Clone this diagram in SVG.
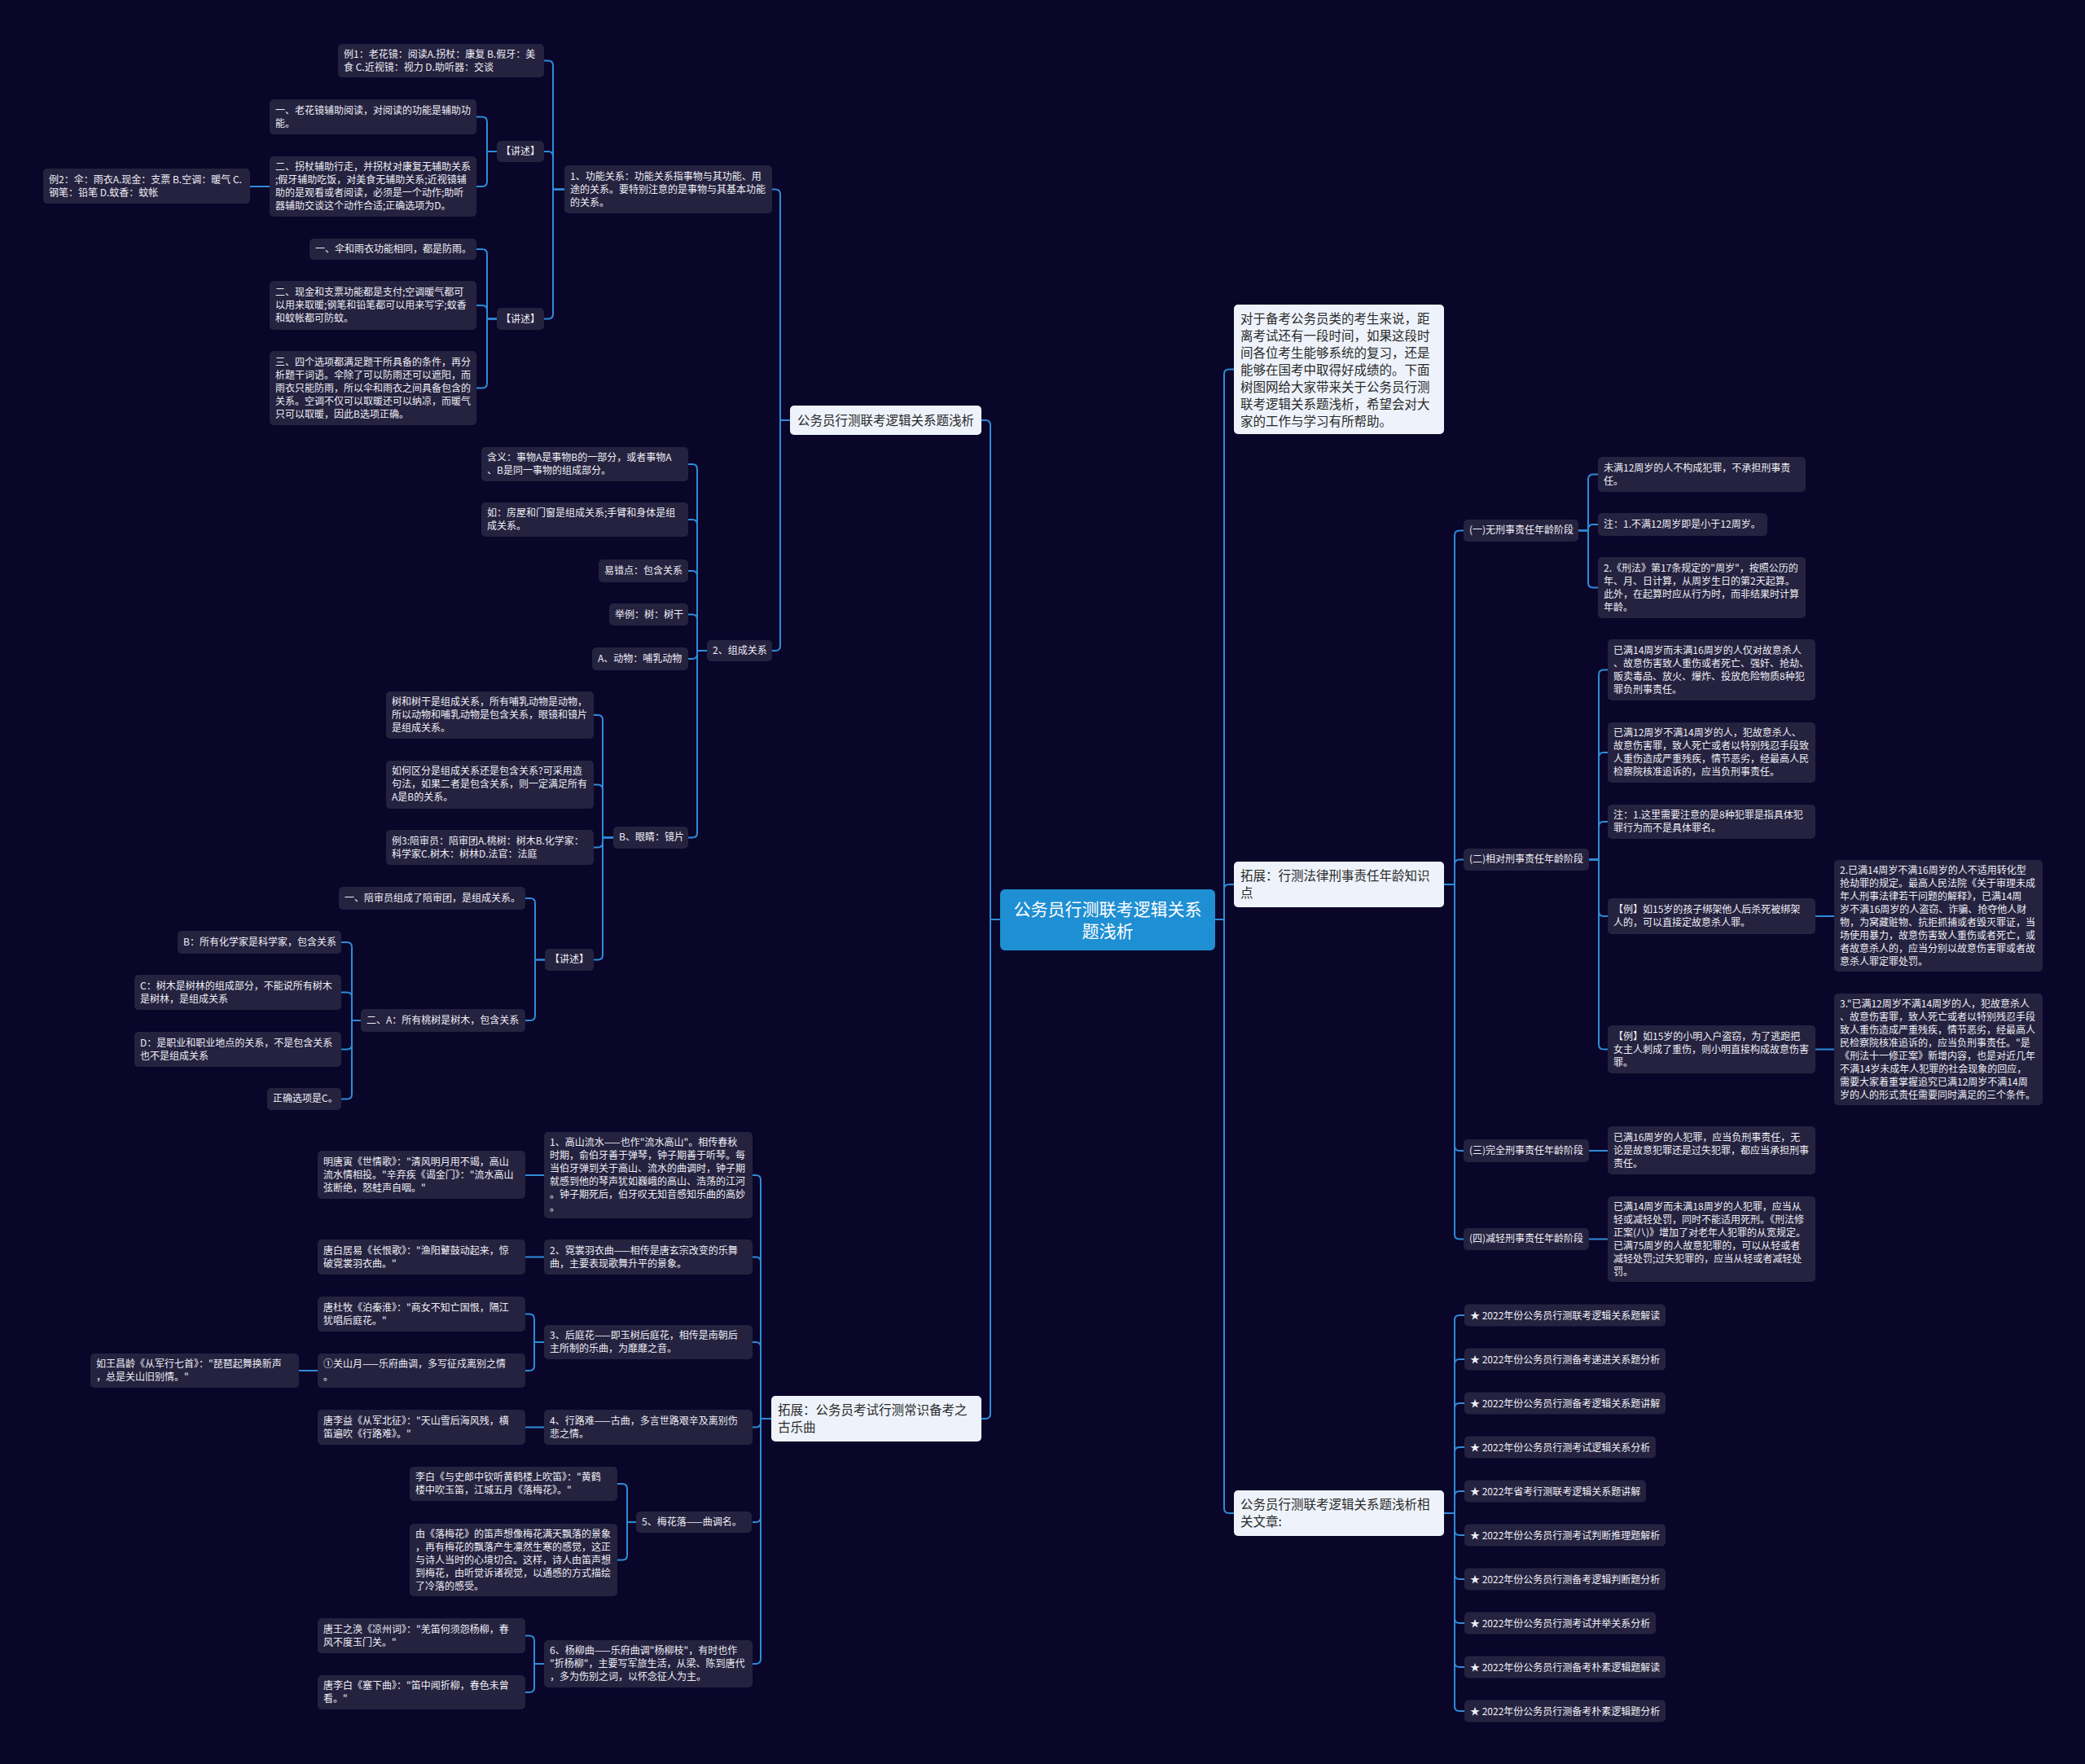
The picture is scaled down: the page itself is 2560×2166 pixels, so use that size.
<svg xmlns="http://www.w3.org/2000/svg" width="2560" height="2166" viewBox="0 0 2560 2166">
<style>
.n rect{fill:#25223f}
.n text{fill:#eeeef5;font-family:"Noto Sans CJK SC","Noto Sans",sans-serif;font-size:12px}
.l rect{fill:#eef3fb}
.l text{fill:#2a2a2a;font-family:"Noto Sans CJK SC","Noto Sans",sans-serif;font-size:15.5px}
.r rect{fill:#1f8fd4}
.r text{fill:#ffffff;font-family:"Noto Sans CJK SC","Noto Sans",sans-serif;font-size:21px;text-anchor:middle}
#connectors path{fill:none;stroke:#2f8bd8;stroke-width:2}
</style>
<rect width="2560" height="2166" fill="#09062a"/>
<g id="connectors">
<path d="M1228,1129 H1216 V522 Q1216,516 1210,516 H1205"/>
<path d="M1228,1129 H1216 V1736 Q1216,1742 1210,1742 H1205"/>
<path d="M1492,1129 H1503 V459.5 Q1503,453.5 1509,453.5 H1515"/>
<path d="M1492,1129 H1503 V1092 Q1503,1086 1509,1086 H1515"/>
<path d="M1492,1129 H1503 V1852 Q1503,1858 1509,1858 H1515"/>
<path d="M970,516 H958 V238.5 Q958,232.5 952,232.5 H948"/>
<path d="M970,516 H958 V793 Q958,799 952,799 H948"/>
<path d="M693,232.5 H679 V80.5 Q679,74.5 673,74.5 H668"/>
<path d="M693,232.5 H679 V192 Q679,186 673,186 H668"/>
<path d="M693,232.5 H679 V385.5 Q679,391.5 673,391.5 H668"/>
<path d="M610,186 H598 V149.5 Q598,143.5 592,143.5 H585"/>
<path d="M610,186 H598 V223 Q598,229 592,229 H585"/>
<path d="M331,229 H307"/>
<path d="M610,391.5 H598 V312 Q598,306 592,306 H585"/>
<path d="M610,391.5 H598 V381 Q598,375 592,375 H585"/>
<path d="M610,391.5 H598 V470.5 Q598,476.5 592,476.5 H585"/>
<path d="M868,799 H856 V576 Q856,570 850,570 H845"/>
<path d="M868,799 H856 V644 Q856,638 850,638 H845"/>
<path d="M868,799 H856 V707 Q856,701 850,701 H845"/>
<path d="M868,799 H856 V760.5 Q856,754.5 850,754.5 H845"/>
<path d="M868,799 H856 V803 Q856,809 850,809 H845"/>
<path d="M868,799 H856 V1022.5 Q856,1028.5 850,1028.5 H845"/>
<path d="M753,1028.5 H740 V884 Q740,878 734,878 H729"/>
<path d="M753,1028.5 H740 V969.5 Q740,963.5 734,963.5 H729"/>
<path d="M753,1028.5 H740 V1034.5 Q740,1040.5 734,1040.5 H729"/>
<path d="M753,1028.5 H740 V1172.5 Q740,1178.5 734,1178.5 H729"/>
<path d="M669,1178.5 H657 V1109 Q657,1103 651,1103 H645"/>
<path d="M669,1178.5 H657 V1247 Q657,1253 651,1253 H645"/>
<path d="M443,1253 H432 V1163 Q432,1157 426,1157 H419"/>
<path d="M443,1253 H432 V1224.5 Q432,1218.5 426,1218.5 H419"/>
<path d="M443,1253 H432 V1282.5 Q432,1288.5 426,1288.5 H419"/>
<path d="M443,1253 H432 V1343.5 Q432,1349.5 426,1349.5 H419"/>
<path d="M947,1742 H934 V1449 Q934,1443 928,1443 H924"/>
<path d="M947,1742 H934 V1549.5 Q934,1543.5 928,1543.5 H924"/>
<path d="M947,1742 H934 V1654 Q934,1648 928,1648 H924"/>
<path d="M947,1742 H934 V1746.5 Q934,1752.5 928,1752.5 H924"/>
<path d="M947,1742 H934 V1863 Q934,1869 928,1869 H924"/>
<path d="M947,1742 H934 V2037 Q934,2043 928,2043 H924"/>
<path d="M668,1443 H645"/>
<path d="M668,1543.5 H645"/>
<path d="M668,1648 H656 V1619.5 Q656,1613.5 650,1613.5 H645"/>
<path d="M668,1648 H656 V1677 Q656,1683 650,1683 H645"/>
<path d="M390,1683 H367"/>
<path d="M668,1752.5 H645"/>
<path d="M781,1869 H770 V1828 Q770,1822 764,1822 H758"/>
<path d="M781,1869 H770 V1909.5 Q770,1915.5 764,1915.5 H758"/>
<path d="M668,2043 H656 V2014.5 Q656,2008.5 650,2008.5 H645"/>
<path d="M668,2043 H656 V2072 Q656,2078 650,2078 H645"/>
<path d="M1773,1086 H1786 V657.5 Q1786,651.5 1792,651.5 H1797"/>
<path d="M1773,1086 H1786 V1061.5 Q1786,1055.5 1792,1055.5 H1797"/>
<path d="M1773,1086 H1786 V1407 Q1786,1413 1792,1413 H1797"/>
<path d="M1773,1086 H1786 V1515.5 Q1786,1521.5 1792,1521.5 H1797"/>
<path d="M1938,651.5 H1950 V588.5 Q1950,582.5 1956,582.5 H1962"/>
<path d="M1938,651.5 H1950 V650 Q1950,644 1956,644 H1962"/>
<path d="M1938,651.5 H1950 V715.5 Q1950,721.5 1956,721.5 H1962"/>
<path d="M1951,1055.5 H1963 V828.5 Q1963,822.5 1969,822.5 H1974"/>
<path d="M1951,1055.5 H1963 V930 Q1963,924 1969,924 H1974"/>
<path d="M1951,1055.5 H1963 V1015 Q1963,1009 1969,1009 H1974"/>
<path d="M1951,1055.5 H1963 V1119 Q1963,1125 1969,1125 H1974"/>
<path d="M1951,1055.5 H1963 V1282.5 Q1963,1288.5 1969,1288.5 H1974"/>
<path d="M2229,1125 H2252"/>
<path d="M2229,1288.5 H2252"/>
<path d="M1951,1413 H1974"/>
<path d="M1951,1521.5 H1974"/>
<path d="M1773,1858 H1786 V1621 Q1786,1615 1792,1615 H1798"/>
<path d="M1773,1858 H1786 V1675 Q1786,1669 1792,1669 H1798"/>
<path d="M1773,1858 H1786 V1729 Q1786,1723 1792,1723 H1798"/>
<path d="M1773,1858 H1786 V1783 Q1786,1777 1792,1777 H1798"/>
<path d="M1773,1858 H1786 V1837 Q1786,1831 1792,1831 H1798"/>
<path d="M1773,1858 H1786 V1879 Q1786,1885 1792,1885 H1798"/>
<path d="M1773,1858 H1786 V1933 Q1786,1939 1792,1939 H1798"/>
<path d="M1773,1858 H1786 V1987 Q1786,1993 1792,1993 H1798"/>
<path d="M1773,1858 H1786 V2041 Q1786,2047 1792,2047 H1798"/>
<path d="M1773,1858 H1786 V2095 Q1786,2101 1792,2101 H1798"/>
</g>

<g id="root" class="r"><rect x="1228" y="1092" width="264" height="75" rx="6"/><text><tspan x="1360" y="1124">公务员行测联考逻辑关系</tspan><tspan x="1360" y="1151">题浅析</tspan></text></g>

<g id="nA" class="l"><rect x="970" y="498" width="235" height="36" rx="5"/><text><tspan x="979" y="521.5">公务员行测联考逻辑关系题浅析</tspan></text></g>
<g id="nB" class="l"><rect x="947" y="1714" width="258" height="56" rx="5"/><text><tspan x="955" y="1737">拓展：公务员考试行测常识备考之</tspan><tspan x="955" y="1758">古乐曲</tspan></text></g>
<g id="nC" class="l"><rect x="1515" y="374" width="258" height="159" rx="5"/><text><tspan x="1523" y="396.5">对于备考公务员类的考生来说，距</tspan><tspan x="1523" y="417.5">离考试还有一段时间，如果这段时</tspan><tspan x="1523" y="438.5">间各位考生能够系统的复习，还是</tspan><tspan x="1523" y="459.5">能够在国考中取得好成绩的。下面</tspan><tspan x="1523" y="480.5">树图网给大家带来关于公务员行测</tspan><tspan x="1523" y="501.5">联考逻辑关系题浅析，希望会对大</tspan><tspan x="1523" y="522.5">家的工作与学习有所帮助。</tspan></text></g>
<g id="nD" class="l"><rect x="1515" y="1058" width="258" height="56" rx="5"/><text><tspan x="1523" y="1081">拓展：行测法律刑事责任年龄知识</tspan><tspan x="1523" y="1102">点</tspan></text></g>
<g id="nE" class="l"><rect x="1515" y="1830" width="258" height="56" rx="5"/><text><tspan x="1523" y="1853">公务员行测联考逻辑关系题浅析相</tspan><tspan x="1523" y="1874">关文章:</tspan></text></g>

<g id="nA1" class="n"><rect x="693" y="203" width="255" height="59" rx="5"/><text><tspan x="700" y="221">1、功能关系：功能关系指事物与其功能、用</tspan><tspan x="700" y="237">途的关系。要特别注意的是事物与其基本功能</tspan><tspan x="700" y="253">的关系。</tspan></text></g>
<g id="nA1a" class="n"><rect x="415" y="54" width="253" height="41" rx="5"/><text><tspan x="422" y="71">例1：老花镜：阅读A.拐杖：康复 B.假牙：美</tspan><tspan x="422" y="87">食 C.近视镜：视力 D.助听器：交谈</tspan></text></g>
<g id="nA1b" class="n"><rect x="610" y="173" width="58" height="26" rx="5"/><text><tspan x="615" y="190">【讲述】</tspan></text></g>
<g id="nA1c" class="n"><rect x="610" y="378" width="58" height="27" rx="5"/><text><tspan x="615" y="396">【讲述】</tspan></text></g>
<g id="nA1b1" class="n"><rect x="331" y="122" width="254" height="43" rx="5"/><text><tspan x="338" y="140">一、老花镜辅助阅读，对阅读的功能是辅助功</tspan><tspan x="338" y="156">能。</tspan></text></g>
<g id="nA1b2" class="n"><rect x="331" y="192" width="254" height="74" rx="5"/><text><tspan x="338" y="209">二、拐杖辅助行走，并拐杖对康复无辅助关系</tspan><tspan x="338" y="225">;假牙辅助吃饭，对美食无辅助关系;近视镜辅</tspan><tspan x="338" y="241">助的是观看或者阅读，必须是一个动作;助听</tspan><tspan x="338" y="257">器辅助交谈这个动作合适;正确选项为D。</tspan></text></g>
<g id="nA1b2a" class="n"><rect x="53" y="207" width="254" height="43" rx="5"/><text><tspan x="60" y="225">例2：伞：雨衣A.现金：支票 B.空调：暖气 C.</tspan><tspan x="60" y="241">钢笔：铅笔 D.蚊香：蚊帐</tspan></text></g>
<g id="nA1c1" class="n"><rect x="380" y="293" width="205" height="26" rx="5"/><text><tspan x="387" y="310">一、伞和雨衣功能相同，都是防雨。</tspan></text></g>
<g id="nA1c2" class="n"><rect x="331" y="345" width="254" height="60" rx="5"/><text><tspan x="338" y="363">二、现金和支票功能都是支付;空调暖气都可</tspan><tspan x="338" y="379">以用来取暖;钢笔和铅笔都可以用来写字;蚊香</tspan><tspan x="338" y="395">和蚊帐都可防蚊。</tspan></text></g>
<g id="nA1c3" class="n"><rect x="331" y="431" width="254" height="91" rx="5"/><text><tspan x="338" y="449">三、四个选项都满足题干所具备的条件，再分</tspan><tspan x="338" y="465">析题干词语。伞除了可以防雨还可以遮阳，而</tspan><tspan x="338" y="481">雨衣只能防雨，所以伞和雨衣之间具备包含的</tspan><tspan x="338" y="497">关系。空调不仅可以取暖还可以纳凉，而暖气</tspan><tspan x="338" y="513">只可以取暖，因此B选项正确。</tspan></text></g>

<g id="nA2" class="n"><rect x="868" y="786" width="80" height="26" rx="5"/><text><tspan x="875" y="803">2、组成关系</tspan></text></g>
<g id="nA2a" class="n"><rect x="591" y="549" width="254" height="42" rx="5"/><text><tspan x="598" y="566">含义：事物A是事物B的一部分，或者事物A</tspan><tspan x="598" y="582">、B是同一事物的组成部分。</tspan></text></g>
<g id="nA2b" class="n"><rect x="591" y="617" width="254" height="42" rx="5"/><text><tspan x="598" y="634">如：房屋和门窗是组成关系;手臂和身体是组</tspan><tspan x="598" y="650">成关系。</tspan></text></g>
<g id="nA2c" class="n"><rect x="735" y="687" width="110" height="28" rx="5"/><text><tspan x="742" y="705">易错点：包含关系</tspan></text></g>
<g id="nA2d" class="n"><rect x="748" y="741" width="97" height="27" rx="5"/><text><tspan x="755" y="759">举例：树：树干</tspan></text></g>
<g id="nA2e" class="n"><rect x="727" y="795" width="118" height="28" rx="5"/><text><tspan x="734" y="813">A、动物：哺乳动物</tspan></text></g>
<g id="nA2f" class="n"><rect x="753" y="1015" width="92" height="27" rx="5"/><text><tspan x="760" y="1032">B、眼睛：镜片</tspan></text></g>
<g id="nA2f1" class="n"><rect x="474" y="849" width="255" height="58" rx="5"/><text><tspan x="481" y="866">树和树干是组成关系，所有哺乳动物是动物，</tspan><tspan x="481" y="882">所以动物和哺乳动物是包含关系，眼镜和镜片</tspan><tspan x="481" y="898">是组成关系。</tspan></text></g>
<g id="nA2f2" class="n"><rect x="474" y="934" width="255" height="59" rx="5"/><text><tspan x="481" y="951">如何区分是组成关系还是包含关系?可采用造</tspan><tspan x="481" y="967">句法，如果二者是包含关系，则一定满足所有</tspan><tspan x="481" y="983">A是B的关系。</tspan></text></g>
<g id="nA2f3" class="n"><rect x="474" y="1019" width="255" height="43" rx="5"/><text><tspan x="481" y="1037">例3:陪审员：陪审团A.桃树：树木B.化学家：</tspan><tspan x="481" y="1053">科学家C.树木：树林D.法官：法庭</tspan></text></g>
<g id="nA2f4" class="n"><rect x="669" y="1165" width="60" height="27" rx="5"/><text><tspan x="675" y="1182">【讲述】</tspan></text></g>
<g id="nA2f4a" class="n"><rect x="416" y="1089" width="229" height="28" rx="5"/><text><tspan x="423" y="1107">一、陪审员组成了陪审团，是组成关系。</tspan></text></g>
<g id="nA2f4b" class="n"><rect x="443" y="1239" width="202" height="28" rx="5"/><text><tspan x="450" y="1257">二、A：所有桃树是树木，包含关系</tspan></text></g>
<g id="nA2f4b1" class="n"><rect x="218" y="1143" width="201" height="28" rx="5"/><text><tspan x="225" y="1161">B：所有化学家是科学家，包含关系</tspan></text></g>
<g id="nA2f4b2" class="n"><rect x="165" y="1197" width="254" height="43" rx="5"/><text><tspan x="172" y="1215">C：树木是树林的组成部分，不能说所有树木</tspan><tspan x="172" y="1231">是树林，是组成关系</tspan></text></g>
<g id="nA2f4b3" class="n"><rect x="165" y="1267" width="254" height="43" rx="5"/><text><tspan x="172" y="1285">D：是职业和职业地点的关系，不是包含关系</tspan><tspan x="172" y="1301">也不是组成关系</tspan></text></g>
<g id="nA2f4b4" class="n"><rect x="328" y="1336" width="91" height="27" rx="5"/><text><tspan x="335" y="1353">正确选项是C。</tspan></text></g>

<g id="nB1" class="n"><rect x="668" y="1390" width="256" height="106" rx="5"/><text><tspan x="675" y="1407">1、高山流水——也作"流水高山"。相传春秋</tspan><tspan x="675" y="1423">时期，俞伯牙善于弹琴，钟子期善于听琴。每</tspan><tspan x="675" y="1439">当伯牙弹到关于高山、流水的曲调时，钟子期</tspan><tspan x="675" y="1455">就感到他的琴声犹如巍峨的高山、浩荡的江河</tspan><tspan x="675" y="1471">。钟子期死后，伯牙叹无知音感知乐曲的高妙</tspan><tspan x="675" y="1487">。</tspan></text></g>
<g id="nB1a" class="n"><rect x="390" y="1413" width="255" height="59" rx="5"/><text><tspan x="397" y="1431">明唐寅《世情歌》："清风明月用不竭，高山</tspan><tspan x="397" y="1447">流水情相投。"辛弃疾《谒金门》："流水高山</tspan><tspan x="397" y="1463">弦断绝，怒蛙声自咽。"</tspan></text></g>
<g id="nB2" class="n"><rect x="668" y="1522" width="256" height="43" rx="5"/><text><tspan x="675" y="1540">2、霓裳羽衣曲——相传是唐玄宗改变的乐舞</tspan><tspan x="675" y="1556">曲，主要表现歌舞升平的景象。</tspan></text></g>
<g id="nB2a" class="n"><rect x="390" y="1522" width="255" height="43" rx="5"/><text><tspan x="397" y="1540">唐白居易《长恨歌》："渔阳鼙鼓动起来，惊</tspan><tspan x="397" y="1556">破霓裳羽衣曲。"</tspan></text></g>
<g id="nB3" class="n"><rect x="668" y="1627" width="256" height="42" rx="5"/><text><tspan x="675" y="1644">3、后庭花——即玉树后庭花，相传是南朝后</tspan><tspan x="675" y="1660">主所制的乐曲，为靡靡之音。</tspan></text></g>
<g id="nB3a" class="n"><rect x="390" y="1592" width="255" height="43" rx="5"/><text><tspan x="397" y="1610">唐杜牧《泊秦淮》："商女不知亡国恨，隔江</tspan><tspan x="397" y="1626">犹唱后庭花。"</tspan></text></g>
<g id="nB3b" class="n"><rect x="390" y="1662" width="255" height="42" rx="5"/><text><tspan x="397" y="1679">①关山月——乐府曲调，多写征戍离别之情</tspan><tspan x="397" y="1695">。</tspan></text></g>
<g id="nB3b1" class="n"><rect x="111" y="1662" width="256" height="42" rx="5"/><text><tspan x="118" y="1679">如王昌龄《从军行七首》："琵琶起舞换新声</tspan><tspan x="118" y="1695">，总是关山旧别情。"</tspan></text></g>
<g id="nB4" class="n"><rect x="668" y="1731" width="256" height="43" rx="5"/><text><tspan x="675" y="1749">4、行路难——古曲，多言世路艰辛及离别伤</tspan><tspan x="675" y="1765">悲之情。</tspan></text></g>
<g id="nB4a" class="n"><rect x="390" y="1731" width="255" height="43" rx="5"/><text><tspan x="397" y="1749">唐李益《从军北征》："天山雪后海风残，横</tspan><tspan x="397" y="1765">笛遍吹《行路难》。"</tspan></text></g>
<g id="nB5" class="n"><rect x="781" y="1856" width="142" height="26" rx="5"/><text><tspan x="788" y="1873">5、梅花落——曲调名。</tspan></text></g>
<g id="nB5a" class="n"><rect x="503" y="1801" width="255" height="42" rx="5"/><text><tspan x="510" y="1818">李白《与史郎中钦听黄鹤楼上吹笛》："黄鹤</tspan><tspan x="510" y="1834">楼中吹玉笛，江城五月《落梅花》。"</tspan></text></g>
<g id="nB5b" class="n"><rect x="503" y="1871" width="255" height="89" rx="5"/><text><tspan x="510" y="1888">由《落梅花》的笛声想像梅花满天飘落的景象</tspan><tspan x="510" y="1904">，再有梅花的飘落产生凛然生寒的感觉，这正</tspan><tspan x="510" y="1920">与诗人当时的心境切合。这样，诗人由笛声想</tspan><tspan x="510" y="1936">到梅花，由听觉诉诸视觉，以通感的方式描绘</tspan><tspan x="510" y="1952">了冷落的感受。</tspan></text></g>
<g id="nB6" class="n"><rect x="668" y="2014" width="256" height="58" rx="5"/><text><tspan x="675" y="2031">6、杨柳曲——乐府曲调"杨柳枝"，有时也作</tspan><tspan x="675" y="2047">"折杨柳"，主要写军旅生活，从梁、陈到唐代</tspan><tspan x="675" y="2063">，多为伤别之词，以怀念征人为主。</tspan></text></g>
<g id="nB6a" class="n"><rect x="390" y="1987" width="255" height="43" rx="5"/><text><tspan x="397" y="2005">唐王之涣《凉州词》："羌笛何须怨杨柳，春</tspan><tspan x="397" y="2021">风不度玉门关。"</tspan></text></g>
<g id="nB6b" class="n"><rect x="390" y="2057" width="255" height="42" rx="5"/><text><tspan x="397" y="2074">唐李白《塞下曲》："笛中闻折柳，春色未曾</tspan><tspan x="397" y="2090">看。"</tspan></text></g>

<g id="nD1" class="n"><rect x="1797" y="638" width="141" height="27" rx="5"/><text><tspan x="1804" y="655">(一)无刑事责任年龄阶段</tspan></text></g>
<g id="nD1a" class="n"><rect x="1962" y="561" width="255" height="43" rx="5"/><text><tspan x="1969" y="579">未满12周岁的人不构成犯罪，不承担刑事责</tspan><tspan x="1969" y="595">任。</tspan></text></g>
<g id="nD1b" class="n"><rect x="1962" y="630" width="208" height="28" rx="5"/><text><tspan x="1969" y="648">注：1.不满12周岁即是小于12周岁。</tspan></text></g>
<g id="nD1c" class="n"><rect x="1962" y="684" width="255" height="75" rx="5"/><text><tspan x="1969" y="702">2.《刑法》第17条规定的"周岁"，按照公历的</tspan><tspan x="1969" y="718">年、月、日计算，从周岁生日的第2天起算。</tspan><tspan x="1969" y="734">此外，在起算时应从行为时，而非结果时计算</tspan><tspan x="1969" y="750">年龄。</tspan></text></g>
<g id="nD2" class="n"><rect x="1797" y="1042" width="154" height="27" rx="5"/><text><tspan x="1804" y="1059">(二)相对刑事责任年龄阶段</tspan></text></g>
<g id="nD2a" class="n"><rect x="1974" y="785" width="255" height="75" rx="5"/><text><tspan x="1981" y="803">已满14周岁而未满16周岁的人仅对故意杀人</tspan><tspan x="1981" y="819">、故意伤害致人重伤或者死亡、强奸、抢劫、</tspan><tspan x="1981" y="835">贩卖毒品、放火、爆炸、投放危险物质8种犯</tspan><tspan x="1981" y="851">罪负刑事责任。</tspan></text></g>
<g id="nD2b" class="n"><rect x="1974" y="887" width="255" height="74" rx="5"/><text><tspan x="1981" y="904">已满12周岁不满14周岁的人，犯故意杀人、</tspan><tspan x="1981" y="920">故意伤害罪，致人死亡或者以特别残忍手段致</tspan><tspan x="1981" y="936">人重伤造成严重残疾，情节恶劣，经最高人民</tspan><tspan x="1981" y="952">检察院核准追诉的，应当负刑事责任。</tspan></text></g>
<g id="nD2c" class="n"><rect x="1974" y="988" width="255" height="42" rx="5"/><text><tspan x="1981" y="1005">注：1.这里需要注意的是8种犯罪是指具体犯</tspan><tspan x="1981" y="1021">罪行为而不是具体罪名。</tspan></text></g>
<g id="nD2d" class="n"><rect x="1974" y="1103" width="255" height="44" rx="5"/><text><tspan x="1981" y="1121">【例】如15岁的孩子绑架他人后杀死被绑架</tspan><tspan x="1981" y="1137">人的，可以直接定故意杀人罪。</tspan></text></g>
<g id="nD2d1" class="n"><rect x="2252" y="1056" width="256" height="137" rx="5"/><text><tspan x="2259" y="1073">2.已满14周岁不满16周岁的人不适用转化型</tspan><tspan x="2259" y="1089">抢劫罪的规定。最高人民法院《关于审理未成</tspan><tspan x="2259" y="1105">年人刑事法律若干问题的解释》，已满14周</tspan><tspan x="2259" y="1121">岁不满16周岁的人盗窃、诈骗、抢夺他人财</tspan><tspan x="2259" y="1137">物，为窝藏赃物、抗拒抓捕或者毁灭罪证，当</tspan><tspan x="2259" y="1153">场使用暴力，故意伤害致人重伤或者死亡，或</tspan><tspan x="2259" y="1169">者故意杀人的，应当分别以故意伤害罪或者故</tspan><tspan x="2259" y="1185">意杀人罪定罪处罚。</tspan></text></g>
<g id="nD2e" class="n"><rect x="1974" y="1259" width="255" height="59" rx="5"/><text><tspan x="1981" y="1277">【例】如15岁的小明入户盗窃，为了逃跑把</tspan><tspan x="1981" y="1293">女主人刺成了重伤，则小明直接构成故意伤害</tspan><tspan x="1981" y="1309">罪。</tspan></text></g>
<g id="nD2e1" class="n"><rect x="2252" y="1220" width="256" height="137" rx="5"/><text><tspan x="2259" y="1237">3."已满12周岁不满14周岁的人，犯故意杀人</tspan><tspan x="2259" y="1253">、故意伤害罪，致人死亡或者以特别残忍手段</tspan><tspan x="2259" y="1269">致人重伤造成严重残疾，情节恶劣，经最高人</tspan><tspan x="2259" y="1285">民检察院核准追诉的，应当负刑事责任。"是</tspan><tspan x="2259" y="1301">《刑法十一修正案》新增内容，也是对近几年</tspan><tspan x="2259" y="1317">不满14岁未成年人犯罪的社会现象的回应，</tspan><tspan x="2259" y="1333">需要大家着重掌握追究已满12周岁不满14周</tspan><tspan x="2259" y="1349">岁的人的形式责任需要同时满足的三个条件。</tspan></text></g>
<g id="nD3" class="n"><rect x="1797" y="1399" width="154" height="28" rx="5"/><text><tspan x="1804" y="1417">(三)完全刑事责任年龄阶段</tspan></text></g>
<g id="nD3a" class="n"><rect x="1974" y="1383" width="255" height="59" rx="5"/><text><tspan x="1981" y="1401">已满16周岁的人犯罪，应当负刑事责任，无</tspan><tspan x="1981" y="1417">论是故意犯罪还是过失犯罪，都应当承担刑事</tspan><tspan x="1981" y="1433">责任。</tspan></text></g>
<g id="nD4" class="n"><rect x="1797" y="1508" width="154" height="27" rx="5"/><text><tspan x="1804" y="1525">(四)减轻刑事责任年龄阶段</tspan></text></g>
<g id="nD4a" class="n"><rect x="1974" y="1469" width="255" height="105" rx="5"/><text><tspan x="1981" y="1486">已满14周岁而未满18周岁的人犯罪，应当从</tspan><tspan x="1981" y="1502">轻或减轻处罚，同时不能适用死刑。《刑法修</tspan><tspan x="1981" y="1518">正案(八)》增加了对老年人犯罪的从宽规定。</tspan><tspan x="1981" y="1534">已满75周岁的人故意犯罪的，可以从轻或者</tspan><tspan x="1981" y="1550">减轻处罚;过失犯罪的，应当从轻或者减轻处</tspan><tspan x="1981" y="1566">罚。</tspan></text></g>

<g id="nE1" class="n"><rect x="1798" y="1601.5" width="247" height="27" rx="5"/><text><tspan x="1805" y="1619.5">★ 2022年份公务员行测联考逻辑关系题解读</tspan></text></g>
<g id="nE2" class="n"><rect x="1798" y="1655.5" width="247" height="27" rx="5"/><text><tspan x="1805" y="1673.5">★ 2022年份公务员行测备考递进关系题分析</tspan></text></g>
<g id="nE3" class="n"><rect x="1798" y="1709.5" width="247" height="27" rx="5"/><text><tspan x="1805" y="1727.5">★ 2022年份公务员行测备考逻辑关系题讲解</tspan></text></g>
<g id="nE4" class="n"><rect x="1798" y="1763.5" width="235" height="27" rx="5"/><text><tspan x="1805" y="1781.5">★ 2022年份公务员行测考试逻辑关系分析</tspan></text></g>
<g id="nE5" class="n"><rect x="1798" y="1817.5" width="223" height="27" rx="5"/><text><tspan x="1805" y="1835.5">★ 2022年省考行测联考逻辑关系题讲解</tspan></text></g>
<g id="nE6" class="n"><rect x="1798" y="1871.5" width="247" height="27" rx="5"/><text><tspan x="1805" y="1889.5">★ 2022年份公务员行测考试判断推理题解析</tspan></text></g>
<g id="nE7" class="n"><rect x="1798" y="1925.5" width="247" height="27" rx="5"/><text><tspan x="1805" y="1943.5">★ 2022年份公务员行测备考逻辑判断题分析</tspan></text></g>
<g id="nE8" class="n"><rect x="1798" y="1979.5" width="235" height="27" rx="5"/><text><tspan x="1805" y="1997.5">★ 2022年份公务员行测考试并举关系分析</tspan></text></g>
<g id="nE9" class="n"><rect x="1798" y="2033.5" width="247" height="27" rx="5"/><text><tspan x="1805" y="2051.5">★ 2022年份公务员行测备考朴素逻辑题解读</tspan></text></g>
<g id="nE10" class="n"><rect x="1798" y="2087.5" width="247" height="27" rx="5"/><text><tspan x="1805" y="2105.5">★ 2022年份公务员行测备考朴素逻辑题分析</tspan></text></g>
</svg>
